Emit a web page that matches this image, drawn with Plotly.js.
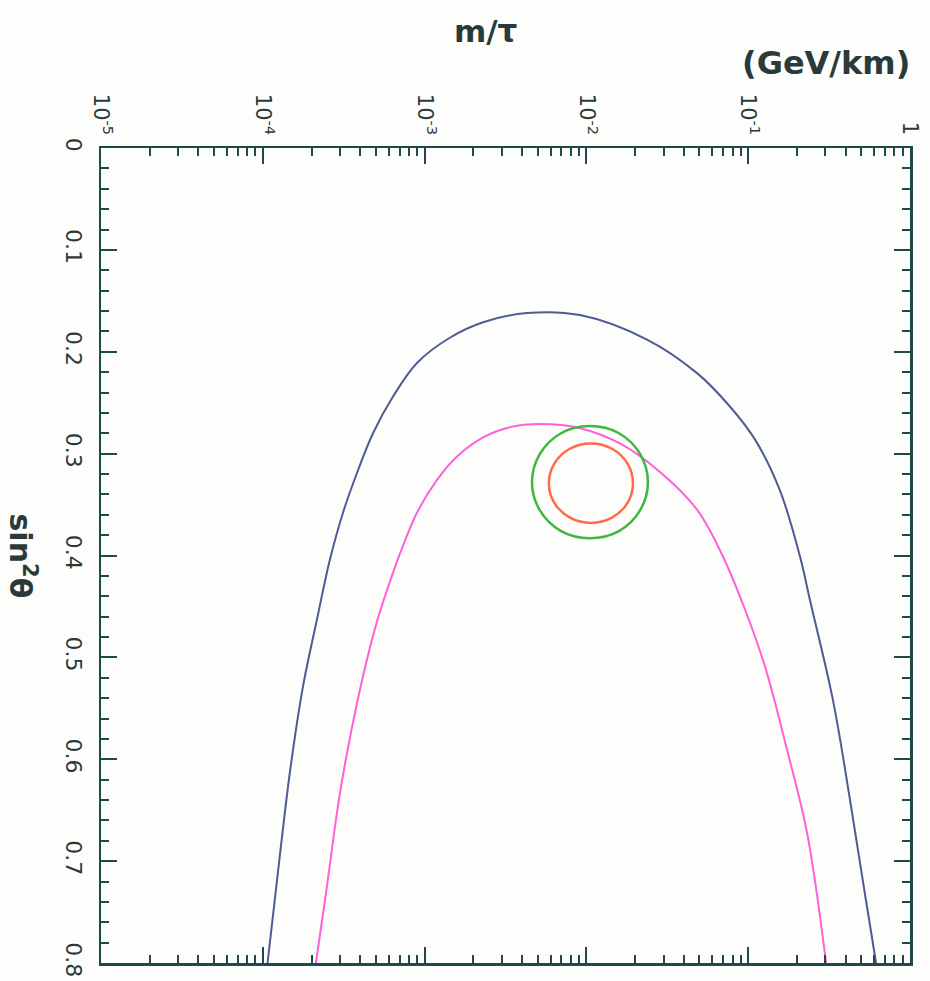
<!DOCTYPE html>
<html>
<head>
<meta charset="utf-8">
<script src="https://cdn.plot.ly/plotly-3.0.1.min.js"></script>
<style>html,body{margin:0;padding:0;background:#fdfefb;}</style>
</head>
<body>
<div id="chart" style="width:930px;height:981px;"></div>
<script>
// Outer (blue) contour: m/tau (GeV/km) vs sin^2(theta)
const blueX = [1.07e-4, 1.28e-4, 1.47e-4, 1.77e-4, 2.16e-4, 2.60e-4, 3.13e-4, 3.82e-4, 4.80e-4, 6.38e-4, 8.97e-4, 1.44e-3, 2.30e-3, 4.30e-3, 9.12e-3, 2.37e-2, 4.83e-2, 7.73e-2, 0.111, 0.157, 0.209, 0.241, 0.334, 0.426, 0.513, 0.617];
const blueY = [0.800, 0.692, 0.613, 0.529, 0.463, 0.404, 0.358, 0.319, 0.280, 0.244, 0.211, 0.186, 0.171, 0.162, 0.164, 0.188, 0.221, 0.254, 0.287, 0.336, 0.401, 0.444, 0.542, 0.640, 0.721, 0.800];
// Inner (magenta) contour
const pinkX = [2.13e-4, 2.49e-4, 3.00e-4, 3.82e-4, 5.01e-4, 5.86e-4, 7.05e-4, 8.97e-4, 1.19e-3, 1.58e-3, 2.30e-3, 3.37e-3, 5.16e-3, 9.12e-3, 1.61e-2, 2.85e-2, 4.83e-2, 6.98e-2, 9.55e-2, 0.127, 0.174, 0.231, 0.303];
const pinkY = [0.800, 0.725, 0.633, 0.545, 0.468, 0.434, 0.398, 0.358, 0.326, 0.303, 0.284, 0.274, 0.271, 0.275, 0.290, 0.318, 0.355, 0.401, 0.453, 0.509, 0.591, 0.672, 0.800];
// Green contour (closed)
const greenX = [0.0240, 0.0215, 0.0159, 0.01052, 0.00697, 0.00515, 0.00461, 0.00515, 0.00697, 0.01052, 0.0159, 0.0215, 0.0240];
const greenY = [0.328, 0.3005, 0.280, 0.273, 0.280, 0.3005, 0.328, 0.3555, 0.376, 0.383, 0.376, 0.3555, 0.328];
// Red contour (closed)
const redX = [0.01941, 0.01791, 0.01439, 0.01067, 0.00791, 0.00635, 0.00586, 0.00635, 0.00791, 0.01067, 0.01439, 0.01791, 0.01941];
const redY = [0.329, 0.3095, 0.2952, 0.290, 0.2952, 0.3095, 0.329, 0.3485, 0.3628, 0.368, 0.3628, 0.3485, 0.329];

const xTickVals = [1e-5, 1e-4, 1e-3, 1e-2, 1e-1, 1];
const xTickText = ['10<sup>-5</sup>', '10<sup>-4</sup>', '10<sup>-3</sup>', '10<sup>-2</sup>', '10<sup>-1</sup>', '1'];
const yTickVals = [0, 0.1, 0.2, 0.3, 0.4, 0.5, 0.6, 0.7, 0.8];
const yTickText = ['0', '0.1', '0.2', '0.3', '0.4', '0.5', '0.6', '0.7', '0.8'];

const axisColor = '#1f4a4a';
const textColor = '#2a3a3a';
const font = 'DejaVu Sans, Arial, sans-serif';

const traces = [
  {x: blueX, y: blueY, mode: 'lines', line: {color: '#4f5a96', width: 2, shape: 'spline', smoothing: 1}, hoverinfo: 'skip'},
  {x: pinkX, y: pinkY, mode: 'lines', line: {color: '#ff5fd8', width: 2, shape: 'spline', smoothing: 1}, hoverinfo: 'skip'},
  {x: greenX, y: greenY, mode: 'lines', line: {color: '#3fb83f', width: 2.5, shape: 'spline', smoothing: 1}, hoverinfo: 'skip'},
  {x: redX, y: redY, mode: 'lines', line: {color: '#ff6a4a', width: 2.5, shape: 'spline', smoothing: 1}, hoverinfo: 'skip'}
];

const layout = {
  width: 930, height: 981,
  margin: {l: 101, r: 20, t: 148, b: 18},
  paper_bgcolor: '#fdfefb',
  plot_bgcolor: '#fdfefb',
  showlegend: false,
  xaxis: {
    type: 'log', range: [-5, 0], side: 'top',
    tickmode: 'array', tickvals: xTickVals, ticktext: xTickText,
    tickangle: 90,
    ticks: 'inside', ticklen: 16, tickwidth: 2, tickcolor: axisColor,
    minor: {ticks: 'inside', ticklen: 8, tickwidth: 2, tickcolor: axisColor, dtick: 'D1', showgrid: false},
    showline: true, linewidth: 2.5, linecolor: axisColor, mirror: 'allticks',
    showgrid: false, zeroline: false,
    tickfont: {family: font, size: 21, color: textColor},
    ticklabelstandoff: 3
  },
  yaxis: {
    range: [0.8, 0],
    tickmode: 'array', tickvals: yTickVals, ticktext: yTickText,
    tickangle: 90,
    ticks: 'inside', ticklen: 16, tickwidth: 2, tickcolor: axisColor,
    minor: {ticks: 'inside', ticklen: 8, tickwidth: 2, tickcolor: axisColor, dtick: 0.02, showgrid: false},
    showline: true, linewidth: 2.5, linecolor: axisColor, mirror: 'allticks',
    showgrid: false, zeroline: false,
    tickfont: {family: font, size: 22, color: textColor},
    ticklabelstandoff: 6
  },
  annotations: [
    {text: '<b>m/τ</b>', xref: 'paper', yref: 'paper', x: 0.4755, y: 1, yshift: 117, xanchor: 'center', yanchor: 'middle', showarrow: false, font: {family: font, size: 31, color: textColor}},
    {text: '<b>(GeV/km)</b>', xref: 'paper', yref: 'paper', x: 1, xshift: 2, y: 1, yshift: 85, xanchor: 'right', yanchor: 'middle', showarrow: false, font: {family: font, size: 32, color: textColor}},
    {text: '<b>sin<sup>2</sup>θ</b>', xref: 'paper', yref: 'paper', x: 0, xshift: -79, y: 0.5, yshift: 0, xanchor: 'center', yanchor: 'middle', textangle: 90, showarrow: false, font: {family: font, size: 30, color: textColor}}
  ]
};

Plotly.newPlot('chart', traces, layout, {displayModeBar: false, staticPlot: true});
</script>
</body>
</html>
